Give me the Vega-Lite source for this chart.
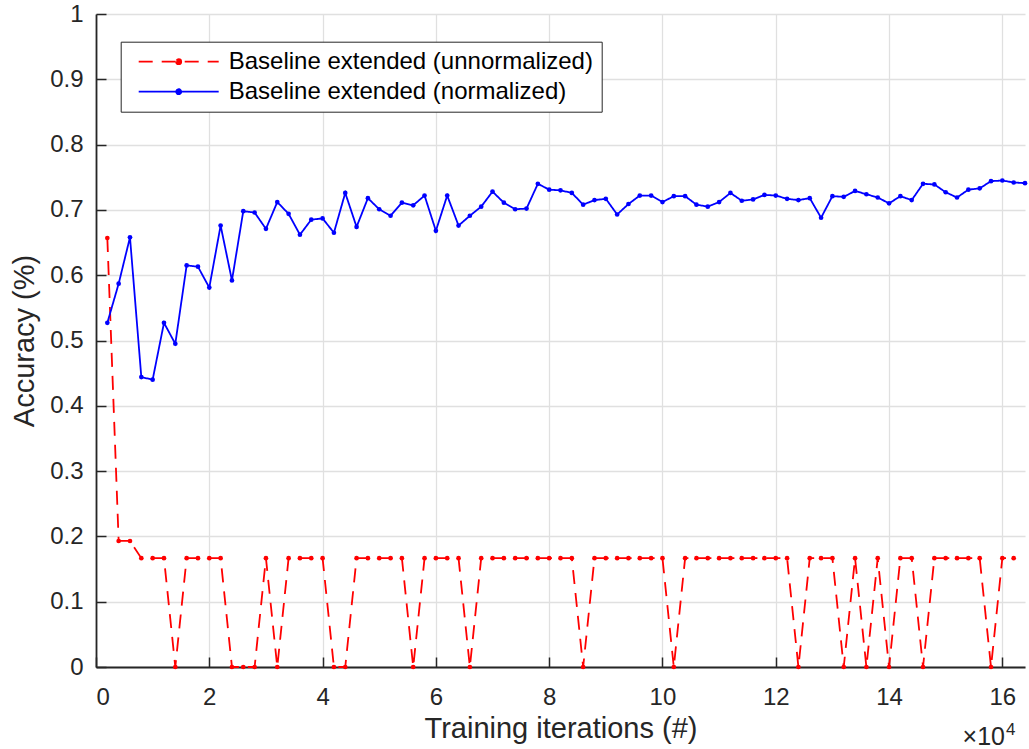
{
  "$schema": "https://vega.github.io/schema/vega-lite/v6.json",
  "width": 929,
  "height": 653,
  "autosize": {"type": "none"},
  "padding": {"left": 96, "top": 14, "right": 4, "bottom": 82},
  "background": "white",
  "config": {
    "view": {"stroke": null},
    "font": "Liberation Sans",
    "axis": {
      "domainColor": "#262626", "domainWidth": 1.8,
      "tickColor": "#262626", "tickWidth": 1.5, "tickSize": -10,
      "labelColor": "#262626", "labelFont": "Liberation Sans", "labelFontSize": 24,
      "titleColor": "#262626", "titleFont": "Liberation Sans", "titleFontSize": 29, "titleFontWeight": "normal",
      "gridColor": "#e0e0e0", "gridWidth": 1.3
    }
  },
  "data": {"values": [
    {"x":0.2,"y":0.657,"s":"unnormalized"},{"x":0.4,"y":0.193,"s":"unnormalized"},{"x":0.6,"y":0.193,"s":"unnormalized"},
    {"x":0.8,"y":0.1667,"s":"unnormalized"},{"x":1.0,"y":0.1667,"s":"unnormalized"},{"x":1.2,"y":0.1667,"s":"unnormalized"},
    {"x":1.4,"y":0,"s":"unnormalized"},{"x":1.6,"y":0.1667,"s":"unnormalized"},{"x":1.8,"y":0.1667,"s":"unnormalized"},
    {"x":2.0,"y":0.1667,"s":"unnormalized"},{"x":2.2,"y":0.1667,"s":"unnormalized"},{"x":2.4,"y":0,"s":"unnormalized"},
    {"x":2.6,"y":0,"s":"unnormalized"},{"x":2.8,"y":0,"s":"unnormalized"},{"x":3.0,"y":0.1667,"s":"unnormalized"},
    {"x":3.2,"y":0,"s":"unnormalized"},{"x":3.4,"y":0.1667,"s":"unnormalized"},{"x":3.6,"y":0.1667,"s":"unnormalized"},
    {"x":3.8,"y":0.1667,"s":"unnormalized"},{"x":4.0,"y":0.1667,"s":"unnormalized"},{"x":4.2,"y":0,"s":"unnormalized"},
    {"x":4.4,"y":0,"s":"unnormalized"},{"x":4.6,"y":0.1667,"s":"unnormalized"},{"x":4.8,"y":0.1667,"s":"unnormalized"},
    {"x":5.0,"y":0.1667,"s":"unnormalized"},{"x":5.2,"y":0.1667,"s":"unnormalized"},{"x":5.4,"y":0.1667,"s":"unnormalized"},
    {"x":5.6,"y":0,"s":"unnormalized"},{"x":5.8,"y":0.1667,"s":"unnormalized"},{"x":6.0,"y":0.1667,"s":"unnormalized"},
    {"x":6.2,"y":0.1667,"s":"unnormalized"},{"x":6.4,"y":0.1667,"s":"unnormalized"},{"x":6.6,"y":0,"s":"unnormalized"},
    {"x":6.8,"y":0.1667,"s":"unnormalized"},{"x":7.0,"y":0.1667,"s":"unnormalized"},{"x":7.2,"y":0.1667,"s":"unnormalized"},
    {"x":7.4,"y":0.1667,"s":"unnormalized"},{"x":7.6,"y":0.1667,"s":"unnormalized"},{"x":7.8,"y":0.1667,"s":"unnormalized"},
    {"x":8.0,"y":0.1667,"s":"unnormalized"},{"x":8.2,"y":0.1667,"s":"unnormalized"},{"x":8.4,"y":0.1667,"s":"unnormalized"},
    {"x":8.6,"y":0,"s":"unnormalized"},{"x":8.8,"y":0.1667,"s":"unnormalized"},{"x":9.0,"y":0.1667,"s":"unnormalized"},
    {"x":9.2,"y":0.1667,"s":"unnormalized"},{"x":9.4,"y":0.1667,"s":"unnormalized"},{"x":9.6,"y":0.1667,"s":"unnormalized"},
    {"x":9.8,"y":0.1667,"s":"unnormalized"},{"x":10.0,"y":0.1667,"s":"unnormalized"},{"x":10.2,"y":0,"s":"unnormalized"},
    {"x":10.4,"y":0.1667,"s":"unnormalized"},{"x":10.6,"y":0.1667,"s":"unnormalized"},{"x":10.8,"y":0.1667,"s":"unnormalized"},
    {"x":11.0,"y":0.1667,"s":"unnormalized"},{"x":11.2,"y":0.1667,"s":"unnormalized"},{"x":11.4,"y":0.1667,"s":"unnormalized"},
    {"x":11.6,"y":0.1667,"s":"unnormalized"},{"x":11.8,"y":0.1667,"s":"unnormalized"},{"x":12.0,"y":0.1667,"s":"unnormalized"},
    {"x":12.2,"y":0.1667,"s":"unnormalized"},{"x":12.4,"y":0,"s":"unnormalized"},{"x":12.6,"y":0.1667,"s":"unnormalized"},
    {"x":12.8,"y":0.1667,"s":"unnormalized"},{"x":13.0,"y":0.1667,"s":"unnormalized"},{"x":13.2,"y":0,"s":"unnormalized"},
    {"x":13.4,"y":0.1667,"s":"unnormalized"},{"x":13.6,"y":0,"s":"unnormalized"},{"x":13.8,"y":0.1667,"s":"unnormalized"},
    {"x":14.0,"y":0,"s":"unnormalized"},{"x":14.2,"y":0.1667,"s":"unnormalized"},{"x":14.4,"y":0.1667,"s":"unnormalized"},
    {"x":14.6,"y":0,"s":"unnormalized"},{"x":14.8,"y":0.1667,"s":"unnormalized"},{"x":15.0,"y":0.1667,"s":"unnormalized"},
    {"x":15.2,"y":0.1667,"s":"unnormalized"},{"x":15.4,"y":0.1667,"s":"unnormalized"},{"x":15.6,"y":0.1667,"s":"unnormalized"},
    {"x":15.8,"y":0,"s":"unnormalized"},{"x":16.0,"y":0.1667,"s":"unnormalized"},{"x":16.2,"y":0.1667,"s":"unnormalized"},
    {"x":0.2,"y":0.527,"s":"normalized"},{"x":0.4,"y":0.587,"s":"normalized"},{"x":0.6,"y":0.658,"s":"normalized"},
    {"x":0.8,"y":0.444,"s":"normalized"},{"x":1.0,"y":0.440,"s":"normalized"},{"x":1.2,"y":0.527,"s":"normalized"},
    {"x":1.4,"y":0.495,"s":"normalized"},{"x":1.6,"y":0.615,"s":"normalized"},{"x":1.8,"y":0.613,"s":"normalized"},
    {"x":2.0,"y":0.581,"s":"normalized"},{"x":2.2,"y":0.676,"s":"normalized"},{"x":2.4,"y":0.592,"s":"normalized"},
    {"x":2.6,"y":0.698,"s":"normalized"},{"x":2.8,"y":0.696,"s":"normalized"},{"x":3.0,"y":0.671,"s":"normalized"},
    {"x":3.2,"y":0.712,"s":"normalized"},{"x":3.4,"y":0.694,"s":"normalized"},{"x":3.6,"y":0.662,"s":"normalized"},
    {"x":3.8,"y":0.685,"s":"normalized"},{"x":4.0,"y":0.687,"s":"normalized"},{"x":4.2,"y":0.665,"s":"normalized"},
    {"x":4.4,"y":0.726,"s":"normalized"},{"x":4.6,"y":0.674,"s":"normalized"},{"x":4.8,"y":0.718,"s":"normalized"},
    {"x":5.0,"y":0.701,"s":"normalized"},{"x":5.2,"y":0.691,"s":"normalized"},{"x":5.4,"y":0.711,"s":"normalized"},
    {"x":5.6,"y":0.707,"s":"normalized"},{"x":5.8,"y":0.722,"s":"normalized"},{"x":6.0,"y":0.668,"s":"normalized"},
    {"x":6.2,"y":0.722,"s":"normalized"},{"x":6.4,"y":0.676,"s":"normalized"},{"x":6.6,"y":0.691,"s":"normalized"},
    {"x":6.8,"y":0.705,"s":"normalized"},{"x":7.0,"y":0.728,"s":"normalized"},{"x":7.2,"y":0.711,"s":"normalized"},
    {"x":7.4,"y":0.701,"s":"normalized"},{"x":7.6,"y":0.702,"s":"normalized"},{"x":7.8,"y":0.740,"s":"normalized"},
    {"x":8.0,"y":0.731,"s":"normalized"},{"x":8.2,"y":0.730,"s":"normalized"},{"x":8.4,"y":0.726,"s":"normalized"},
    {"x":8.6,"y":0.708,"s":"normalized"},{"x":8.8,"y":0.715,"s":"normalized"},{"x":9.0,"y":0.717,"s":"normalized"},
    {"x":9.2,"y":0.693,"s":"normalized"},{"x":9.4,"y":0.709,"s":"normalized"},{"x":9.6,"y":0.722,"s":"normalized"},
    {"x":9.8,"y":0.722,"s":"normalized"},{"x":10.0,"y":0.712,"s":"normalized"},{"x":10.2,"y":0.721,"s":"normalized"},
    {"x":10.4,"y":0.721,"s":"normalized"},{"x":10.6,"y":0.708,"s":"normalized"},{"x":10.8,"y":0.705,"s":"normalized"},
    {"x":11.0,"y":0.712,"s":"normalized"},{"x":11.2,"y":0.726,"s":"normalized"},{"x":11.4,"y":0.714,"s":"normalized"},
    {"x":11.6,"y":0.716,"s":"normalized"},{"x":11.8,"y":0.723,"s":"normalized"},{"x":12.0,"y":0.722,"s":"normalized"},
    {"x":12.2,"y":0.717,"s":"normalized"},{"x":12.4,"y":0.715,"s":"normalized"},{"x":12.6,"y":0.718,"s":"normalized"},
    {"x":12.8,"y":0.688,"s":"normalized"},{"x":13.0,"y":0.721,"s":"normalized"},{"x":13.2,"y":0.720,"s":"normalized"},
    {"x":13.4,"y":0.729,"s":"normalized"},{"x":13.6,"y":0.724,"s":"normalized"},{"x":13.8,"y":0.719,"s":"normalized"},
    {"x":14.0,"y":0.710,"s":"normalized"},{"x":14.2,"y":0.721,"s":"normalized"},{"x":14.4,"y":0.715,"s":"normalized"},
    {"x":14.6,"y":0.740,"s":"normalized"},{"x":14.8,"y":0.739,"s":"normalized"},{"x":15.0,"y":0.727,"s":"normalized"},
    {"x":15.2,"y":0.719,"s":"normalized"},{"x":15.4,"y":0.731,"s":"normalized"},{"x":15.6,"y":0.733,"s":"normalized"},
    {"x":15.8,"y":0.744,"s":"normalized"},{"x":16.0,"y":0.745,"s":"normalized"},{"x":16.2,"y":0.742,"s":"normalized"},
    {"x":16.4,"y":0.741,"s":"normalized"}
  ]},
  "layer": [
    {
      "mark": {"type": "line", "strokeWidth": 1.8, "clip": false, "point": {"filled": true, "size": 22}},
      "encoding": {
        "x": {
          "field": "x", "type": "quantitative",
          "scale": {"domain": [0, 16.4], "nice": false, "zero": false},
          "axis": {"values": [0,2,4,6,8,10,12,14,16], "format": "d", "title": "Training iterations (#)", "labelPadding": 28, "titlePadding": 5}
        },
        "y": {
          "field": "y", "type": "quantitative",
          "scale": {"domain": [0, 1], "nice": false},
          "axis": {"values": [0,0.1,0.2,0.3,0.4,0.5,0.6,0.7,0.8,0.9,1], "format": ".1~f", "title": "Accuracy (%)", "labelPadding": 23, "titlePadding": 10}
        },
        "color": {
          "field": "s", "type": "nominal",
          "scale": {"domain": ["unnormalized", "normalized"], "range": ["#ff0000", "#0000ff"]},
          "legend": {
            "title": null,
            "orient": "none", "legendX": 24.7, "legendY": 27.7,
            "padding": 8, "strokeColor": "#262626", "fillColor": "white",
            "labelFont": "Liberation Sans", "labelFontSize": 24, "labelColor": "#000000", "labelLimit": 600,
            "labelExpr": "'Baseline extended (' + datum.label + ')'",
            "rowPadding": 6,
            "symbolType": "M-4,0L4,0M-0.25,0A0.25,0.25 0 1,0 0.25,0A0.25,0.25 0 1,0 -0.25,0Z",
            "symbolSize": 400, "symbolStrokeWidth": 1.8,
            "symbolOffset": 38, "labelOffset": 38,
            "encode": {"symbols": {"update": {
              "fill": {"scale": "color", "field": "value"},
              "stroke": {"scale": "color", "field": "value"},
              "strokeDash": {"signal": "datum.value == 'unnormalized' ? [13.3, 53.4] : [1, 0]"}
            }}}
          }
        },
        "strokeDash": {
          "field": "s", "type": "nominal",
          "scale": {"domain": ["unnormalized", "normalized"], "range": [[14, 9], [1, 0]]},
          "legend": null
        }
      }
    },
    {
      "data": {"values": [{"label": "×10"}]},
      "mark": {"type": "text", "align": "right", "baseline": "alphabetic", "fontSize": 25, "font": "Liberation Sans", "color": "#262626", "dx": -20, "dy": 78, "clip": false},
      "encoding": {"x": {"datum": 16.4}, "y": {"datum": 0}, "text": {"field": "label"}}
    },
    {
      "data": {"values": [{"label": "4"}]},
      "mark": {"type": "text", "align": "left", "baseline": "alphabetic", "fontSize": 17, "font": "Liberation Sans", "color": "#262626", "dx": -19, "dy": 68, "clip": false},
      "encoding": {"x": {"datum": 16.4}, "y": {"datum": 0}, "text": {"field": "label"}}
    }
  ]
}
